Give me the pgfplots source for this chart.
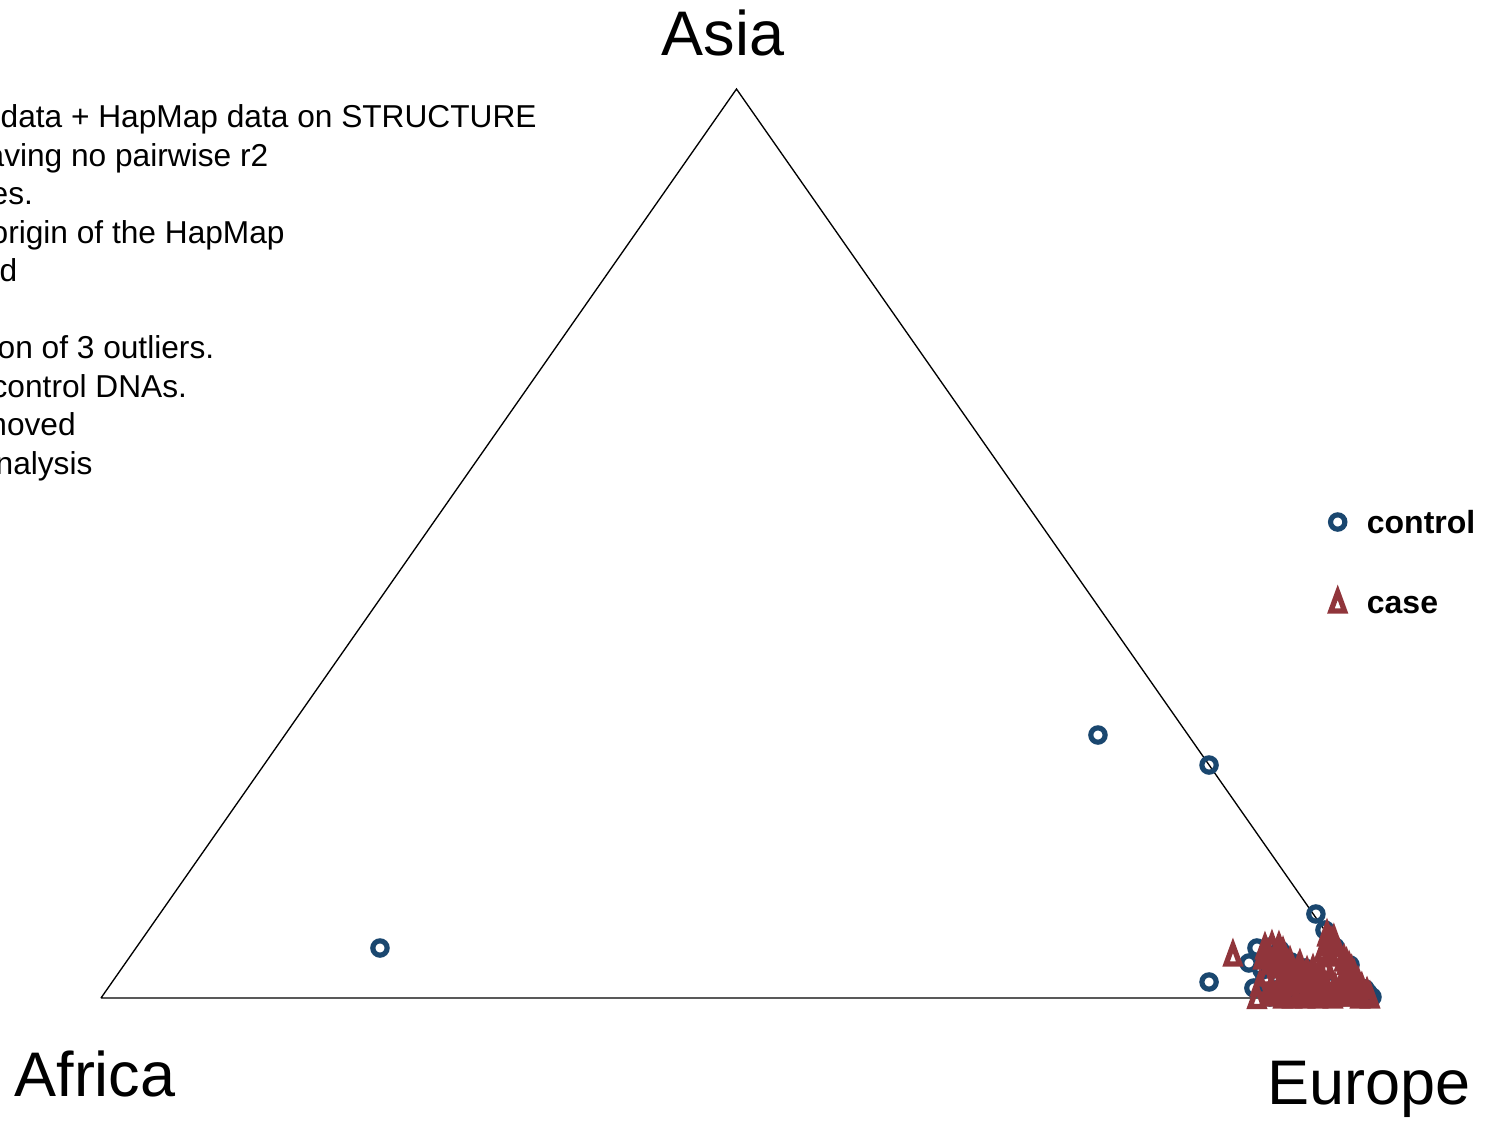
\documentclass[border=0pt]{standalone}
\usepackage{fontspec}
\setmainfont{Liberation Sans}
\usepackage{pgfplots}
\pgfplotsset{compat=1.18}
\definecolor{ctrl}{RGB}{26,71,111}
\definecolor{cas}{RGB}{144,53,59}
\pgfdeclareplotmark{stri}{%
  \pgfsetmiterjoin
  \pgfpathmoveto{\pgfqpoint{0pt}{2.9pt}}%
  \pgfpathlineto{\pgfqpoint{-2.05pt}{-2.7pt}}%
  \pgfpathlineto{\pgfqpoint{2.05pt}{-2.7pt}}%
  \pgfpathclose\pgfusepathqstroke}

\pgfplotstableread{
x y
0.2195 0.0550
0.7844 0.2893
0.8718 0.2563
0.8718 0.0176
0.9559 0.0924
0.9630 0.0748
0.9032 0.0385
0.9095 0.0550
0.9197 0.0561
0.9276 0.0528
0.9363 0.0396
0.9071 0.0110
0.9158 0.0220
0.9135 0.0308
0.9237 0.0088
0.9315 0.0033
0.9433 0.0033
0.9473 0.0330
0.9551 0.0198
0.9669 0.0143
0.9788 0.0088
0.9906 0.0033
1.0000 0.0011
0.9710 0.0560
0.9827 0.0363
0.9945 0.0100
0.9591 0.0033
0.9709 0.0011
0.9355 0.0143
0.9260 0.0396
0.9843 0.0066
0.9969 0.0055
0.9433 0.0198
0.9197 0.0011
0.9300 0.0011
0.9400 0.0011
0.9520 0.0011
0.9640 0.0011
0.9760 0.0011
0.9880 0.0011
0.9980 0.0005
0.9250 0.0450
}\controltab

\pgfplotstableread{
x y
0.8906 0.0473
0.9095 0.0005
0.9158 0.0550
0.9213 0.0572
0.9268 0.0561
0.9182 0.0473
0.9245 0.0473
0.9284 0.0440
0.9213 0.0385
0.9142 0.0440
0.9252 0.0341
0.9300 0.0231
0.9331 0.0165
0.9197 0.0055
0.9221 0.0033
0.9355 0.0088
0.9433 0.0055
0.9536 0.0055
0.9646 0.0055
0.9748 0.0055
0.9851 0.0033
0.9961 0.0055
0.9489 0.0286
0.9536 0.0308
0.9591 0.0286
0.9512 0.0220
0.9575 0.0176
0.9394 0.0176
0.9449 0.0121
0.9276 0.0110
0.9646 0.0693
0.9677 0.0583
0.9709 0.0506
0.9780 0.0418
0.9820 0.0341
0.9860 0.0253
0.9890 0.0176
0.9920 0.0110
0.9960 0.0044
0.9646 0.0583
0.9670 0.0473
0.9638 0.0330
0.9670 0.0220
0.9860 0.0200
0.9764 0.0165
0.9827 0.0110
0.9709 0.0110
0.9606 0.0110
0.9788 0.0033
0.9906 0.0011
0.9693 0.0011
0.9575 0.0011
0.9473 0.0011
0.9371 0.0011
0.9300 0.0011
0.9402 0.0253
0.9323 0.0363
0.9433 0.0363
0.9677 0.0616
0.9788 0.0198
0.9866 0.0088
0.9984 0.0011
0.9166 0.0253
0.9119 0.0143
0.9355 0.0396
0.9300 0.0500
0.9350 0.0300
0.9420 0.0320
0.9480 0.0200
0.9550 0.0250
0.9600 0.0200
0.9620 0.0150
0.9500 0.0080
0.9560 0.0100
0.9650 0.0080
0.9720 0.0060
0.9800 0.0060
0.9900 0.0040
0.9380 0.0050
0.9260 0.0060
0.9620 0.0520
0.9700 0.0640
0.9740 0.0480
0.9800 0.0380
0.9840 0.0300
}\casetab

\begin{document}
\begin{tikzpicture}
\begin{scope}[x=0.3pt,y=0.3pt]
\useasboundingbox (0,0) rectangle (1487,1120);
\begin{scope}[every node/.style={anchor=base west, inner sep=0pt, font=\fontsize{9.5}{11}\selectfont}]
\node at (0,992) {data + HapMap data on STRUCTURE};
\node at (-14,953.5) {aving no pairwise r2};
\node at (-10,915) {es.};
\node at (-10,876.5) {origin of the HapMap};
\node at (-1,838) {d};
\node at (-3,761) {on of 3 outliers.};
\node at (-9,722.5) {control DNAs.};
\node at (-20,684) {moved};
\node at (-5,645.5) {nalysis};
\end{scope}
\begin{scope}[every node/.style={anchor=base, inner sep=0pt, font=\fontsize{18.9}{22}\selectfont}]
\node at (723,1064) {Asia};
\node at (95,24) {Africa};
\node at (1369,16) {Europe};
\end{scope}
\end{scope}
\begin{axis}[
  at={(30.3pt,36.6pt)}, anchor=south west,
  scale only axis, width=381.3pt, height=272.7pt,
  xmin=0, xmax=1, ymin=0, ymax=1,
  hide axis, clip=false,
  legend image code/.code={\draw[#1] plot coordinates {(0pt,0pt)};},
  legend style={at={(axis cs:0.9674,0.5361)}, anchor=north west,
    draw=none, fill=none, inner sep=0pt, outer sep=0pt,
    row sep=17.2pt, column sep=6.6pt,
    nodes={inner sep=0pt, text height=6.8pt, text depth=0pt,
      font=\bfseries\fontsize{9.6}{11}\selectfont}},
  legend cell align=left,
]
\addplot[black, line width=0.4pt, mark=none, forget plot, line join=miter]
  coordinates {(0,0) (1,0) (0.5,1) (0,0)};
\addplot[only marks, mark=o, color=ctrl, mark size=2.15pt, line width=1.55pt]
  table[x=x, y=y] {\controltab};
\addlegendentry{control}
\addplot[only marks, mark=stri, color=cas, line width=1.6pt, line join=miter]
  table[x=x, y=y] {\casetab};
\addlegendentry{case}
\end{axis}
\end{tikzpicture}
\end{document}
